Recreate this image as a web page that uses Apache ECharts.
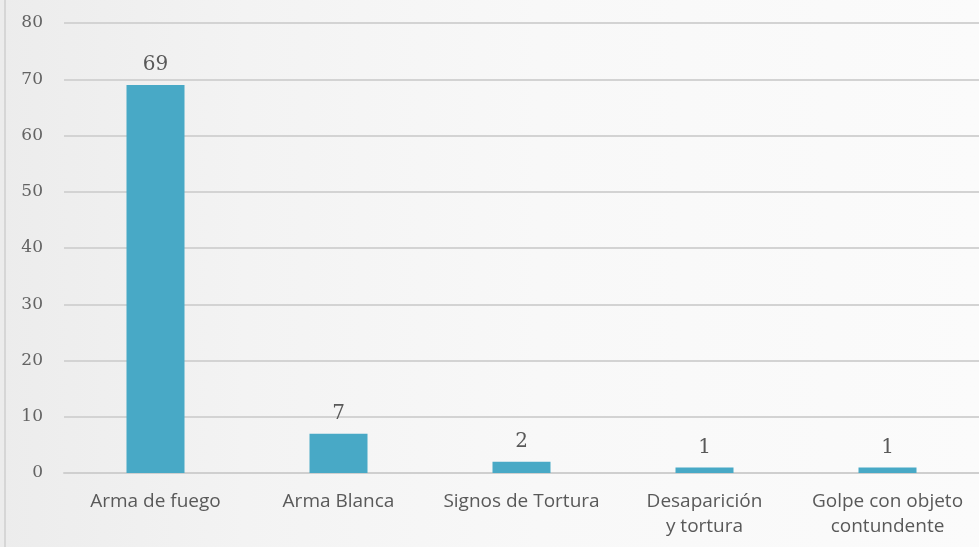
<!DOCTYPE html>
<html>
<head>
<meta charset="utf-8">
<script src="https://cdn.jsdelivr.net/npm/echarts@6/dist/echarts.min.js"></script>
<style>
  html, body { margin: 0; padding: 0; }
  #chart {
    width: 979px;
    height: 547px;
    background: linear-gradient(to right, #ececec 0%, #f3f3f3 25%, #f8f8f8 55%, #fbfbfb 100%);
  }
  #edge { position: absolute; left: 4px; top: 0; width: 2px; height: 547px; background: #d6d6d6; }
</style>
</head>
<body>
<div id="edge"></div>
<div id="chart"></div>
<script>
const categories = ['Arma de fuego', 'Arma Blanca', 'Signos de Tortura', 'Desaparición\ny tortura', 'Golpe con objeto\ncontundente'];
const values = [69, 7, 2, 1, 1];
const yTicks = { min: 0, max: 80, interval: 10 };

const chart = echarts.init(document.getElementById('chart'), null, { renderer: 'canvas' });

chart.setOption({
    animation: false,
    grid: { left: 64, right: -5, top: 23, bottom: 74, containLabel: false },
    xAxis: {
        type: 'category',
        data: categories,
        axisLine: { lineStyle: { color: '#cfcfcf', width: 2 } },
        axisTick: { show: false },
        axisLabel: {
            color: '#595959',
            fontFamily: 'Open Sans',
            fontSize: 19,
            lineHeight: 25,
            margin: 16,
            interval: 0,
        },
    },
    yAxis: {
        type: 'value',
        min: yTicks.min,
        max: yTicks.max,
        interval: yTicks.interval,
        axisLine: { show: false },
        axisTick: { show: false },
        axisLabel: {
            color: '#636363',
            fontFamily: 'DejaVu Serif',
            fontSize: 17,
            margin: 21,
        },
        splitLine: { lineStyle: { color: '#d3d3d3', width: 2 } },
    },
    series: [
        {
            type: 'bar',
            data: values,
            barWidth: 58,
            itemStyle: { color: '#48a9c6' },
            label: {
                show: true,
                position: 'top',
                distance: 10,
                color: '#595959',
                fontFamily: 'DejaVu Serif',
                fontSize: 20,
            },
        },
    ],
});
</script>
</body>
</html>
